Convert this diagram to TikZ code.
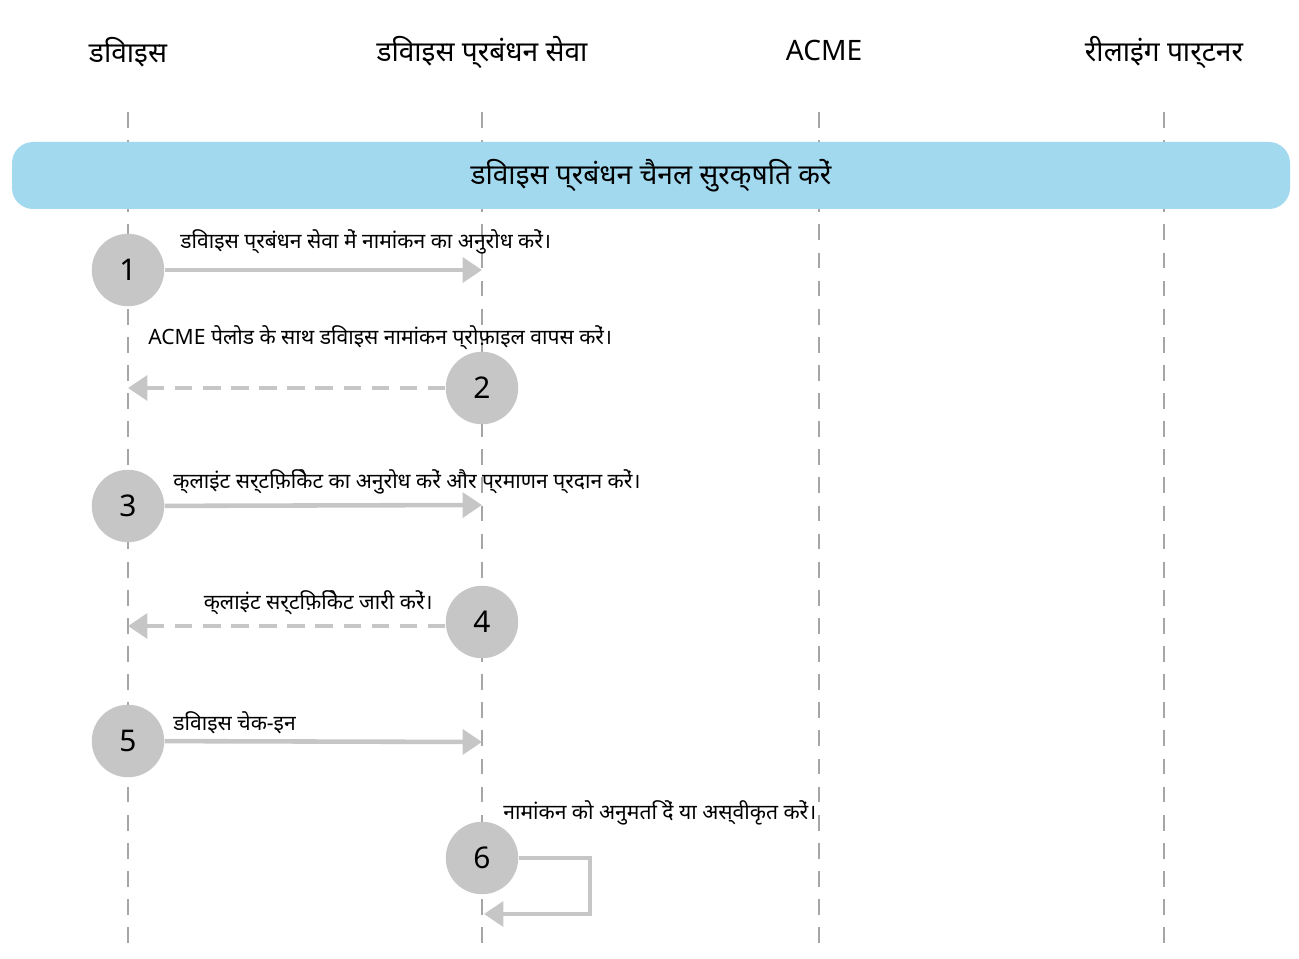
\documentclass[tikz,border=0pt]{standalone}
\usepackage{fontspec}
\setmainfont{Noto Sans}
\usetikzlibrary{positioning,arrows.meta}
\begin{document}
\begin{tikzpicture}[x=0.02cm,y=-0.02cm,
    head/.style={font=\fontsize{16}{19}\selectfont},
    lifeline/.style={draw=gray!70,dash pattern=on 9pt off 7pt,line width=0.8pt},
    stepnum/.style={circle,fill=gray!45,minimum size=1.45cm,inner sep=0pt,font=\fontsize{17}{20}\selectfont},
    msg/.style={draw=gray!45,line width=2.6pt,-{Triangle[length=11pt,width=14pt]}},
    ret/.style={msg,dash pattern=on 10pt off 6pt},
    lbl/.style={font=\fontsize{12}{14}\selectfont,inner sep=0pt}]
    % Bounding box
    \useasboundingbox (0,0) rectangle (1299,959);

    % Colors
    \definecolor{bandblue}{RGB}{162,217,239}

    % Lifelines
    \foreach \name/\x in {dev/128,mdm/482,acme/819,relay/1164}{
        \coordinate (\name top) at (\x,112);
        \coordinate (\name bot) at (\x,945);
        \draw[lifeline] (\name top) -- (\name bot);
    }

    % Headers
    \node[head] (hdev) at (128,52) {डिवाइस};
    \node[head] (hmdm) at (482,52) {डिवाइस प्रबंधन सेवा};
    \node[head] (hacme) at (824,50) {ACME};
    \node[head] (hrelay) at (1164,52) {रीलाइंग पार्टनर};

    % Band
    \fill[bandblue,rounded corners=12pt] (12,142) rectangle (1290,209);
    \node[head] (band) at (651,176) {डिवाइस प्रबंधन चैनल सुरक्षित करें};

    % Steps
    \node[stepnum] (s1) at (128,270) {1};
    \node[stepnum] (s2) at (482,388) {2};
    \node[stepnum] (s3) at (128,506) {3};
    \node[stepnum] (s4) at (482,622) {4};
    \node[stepnum] (s5) at (128,741) {5};
    \node[stepnum] (s6) at (482,858) {6};

    % End points
    \coordinate (e1) at (482,270);
    \coordinate (e2) at (128,388);
    \coordinate (e3) at (482,505);
    \coordinate (e4) at (128,626);
    \coordinate (e5) at (482,742);
    \coordinate (e6) at (484,914);

    % Messages
    \draw[msg] (s1) -- (e1);
    \draw[ret] (s2) -- (e2);
    \draw[msg] (s3) -- (e3);
    \draw[ret] (s4.west |- e4) -- (e4);
    \draw[msg] (s5) -- (e5);
    \draw[msg] (s6.east) -- (590,858) -- (590,914) -- (e6);

    % Labels
    \node[lbl,anchor=west] (l1) at (180,242) {डिवाइस प्रबंधन सेवा में नामांकन का अनुरोध करें।};
    \node[lbl,anchor=west] (l2) at (148,338) {ACME पेलोड के साथ डिवाइस नामांकन प्रोफ़ाइल वापस करें।};
    \node[lbl,anchor=west] (l3) at (173,482) {क्लाइंट सर्टिफ़िकेट का अनुरोध करें और प्रमाणन प्रदान करें।};
    \node[lbl,anchor=east] (l4) at (433,603) {क्लाइंट सर्टिफ़िकेट जारी करें।};
    \node[lbl,anchor=west] (l5) at (173,723) {डिवाइस चेक-इन};
    \node[lbl,anchor=west] (l6) at (503,813) {नामांकन को अनुमति दें या अस्वीकृत करें।};
\end{tikzpicture}
\end{document}
